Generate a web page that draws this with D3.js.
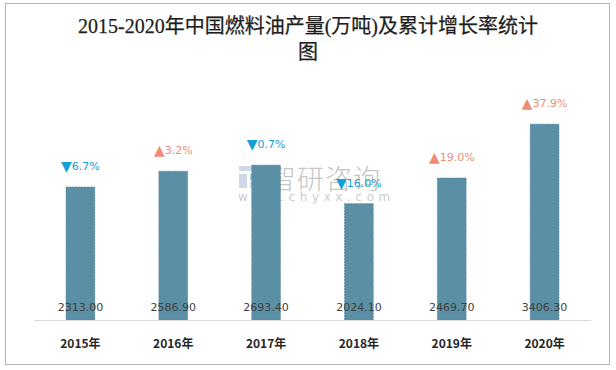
<!DOCTYPE html>
<html>
<head>
<meta charset="utf-8">
<script src="https://cdn.jsdelivr.net/npm/d3@7"></script>
<style>
  body { margin: 0; background: #fff; }
  svg { display: block; }
</style>
</head>
<body>
<div id="chart"></div>
<script>
// data
var years = ["2015年", "2016年", "2017年", "2018年", "2019年", "2020年"];
var output = [2313.00, 2586.90, 2693.40, 2024.10, 2469.70, 3406.30];
var growth = [-6.7, 3.2, -0.7, -16.0, 19.0, 37.9];
var titleLines = ["2015-2020年中国燃料油产量(万吨)及累计增长率统计", "图"];

var W = 616, H = 370;
var svg = d3.select("#chart").append("svg")
    .attr("width", W)
    .attr("height", H);

// outer frame
svg.append("rect")
    .attr("x", 5.5).attr("y", 3.5)
    .attr("width", 604).attr("height", 361)
    .attr("fill", "#fff")
    .attr("stroke", "#b4b4b4");

// title
svg.append("g").selectAll("text")
    .data(titleLines)
    .enter().append("text")
    .attr("x", 308)
    .attr("y", function(d, i) { return 26 + i * 26; })
    .attr("text-anchor", "middle")
    .attr("dominant-baseline", "central")
    .style("font-family", "'Liberation Serif','DejaVu Serif','Noto Sans CJK SC',serif")
    .style("font-size", "20px")
    .style("fill", "#1e1e1e")
    .style("stroke", "#1e1e1e")
    .style("stroke-width", "0.25px")
    .text(function(d) { return d; });

var x = d3.scaleBand()
    .domain(years)
    .range([34, 591])
    .paddingInner(0.69)
    .paddingOuter(0.345);

var y = d3.scaleLinear()
    .domain([0, 4000])
    .range([320, 90]);

// watermark
var wm = svg.append("g").attr("opacity", 0.5);
wm.append("rect").attr("x", 239).attr("y", 166).attr("width", 22).attr("height", 5).attr("fill", "#9fb3cf");
wm.append("rect").attr("x", 239).attr("y", 174).attr("width", 8).attr("height", 14).attr("fill", "#9fb3cf");
wm.append("rect").attr("x", 250).attr("y", 174).attr("width", 11).attr("height", 6).attr("fill", "#4b8ec9");
wm.append("rect").attr("x", 250).attr("y", 182).attr("width", 11).attr("height", 6).attr("fill", "#9fb3cf");
wm.append("text")
    .attr("x", 269).attr("y", 177)
    .attr("dominant-baseline", "central")
    .style("font-family", "'Noto Sans CJK SC',sans-serif")
    .style("font-size", "27px")
    .style("font-weight", "300")
    .style("letter-spacing", "1px")
    .style("fill", "#8c8c8c")
    .text("智研咨询");
wm.append("text")
    .attr("x", 238).attr("y", 197)
    .attr("dominant-baseline", "central")
    .style("font-family", "'DejaVu Sans',sans-serif")
    .style("font-size", "12px")
    .style("letter-spacing", "4.6px")
    .style("fill", "#9a9a9a")
    .text("www.chyxx.com");

// bars
svg.append("g").selectAll("rect")
    .data(output)
    .enter().append("rect")
    .attr("x", function(d, i) { return x(years[i]); })
    .attr("y", function(d) { return y(d); })
    .attr("width", x.bandwidth())
    .attr("height", function(d) { return y(0) - y(d); })
    .attr("fill", "#5b8fa6")
    .attr("stroke", "#4e7f96")
    .attr("stroke-width", 0.6)
    .attr("stroke-dasharray", "2,1");

// baseline
svg.append("line")
    .attr("x1", 34).attr("x2", 591)
    .attr("y1", 320.5).attr("y2", 320.5)
    .attr("stroke", "#d9d9d9");

// value labels
svg.append("g").selectAll("text")
    .data(output)
    .enter().append("text")
    .attr("x", function(d, i) { return x(years[i]) + x.bandwidth() / 2; })
    .attr("y", 307)
    .attr("text-anchor", "middle")
    .attr("dominant-baseline", "central")
    .style("font-family", "'DejaVu Sans',sans-serif")
    .style("font-size", "11px")
    .style("fill", "#404040")
    .text(function(d) { return d.toFixed(2); });

// growth labels
var gl = svg.append("g").selectAll("text")
    .data(growth)
    .enter().append("text")
    .attr("x", function(d, i) { return x(years[i]) + x.bandwidth() / 2; })
    .attr("y", function(d, i) { return y(output[i]) - 21; })
    .attr("text-anchor", "middle")
    .attr("dominant-baseline", "central")
    .style("font-family", "'DejaVu Sans',sans-serif")
    .style("font-size", "11px")
    .style("fill", function(d) { return d < 0 ? "#12a0d7" : "#f08c74"; });
gl.append("tspan")
    .style("font-size", "14px")
    .text(function(d) { return d < 0 ? "▼" : "▲"; });
gl.append("tspan")
    .text(function(d) { return Math.abs(d).toFixed(1) + "%"; });

// x axis labels
svg.append("g").selectAll("text")
    .data(years)
    .enter().append("text")
    .attr("x", function(d) { return x(d) + x.bandwidth() / 2; })
    .attr("y", 342)
    .attr("text-anchor", "middle")
    .attr("dominant-baseline", "central")
    .style("font-family", "'Noto Sans CJK SC',sans-serif")
    .style("font-size", "12px")
    .style("font-weight", "bold")
    .style("fill", "#262626")
    .text(function(d) { return d; });
</script>
</body>
</html>
